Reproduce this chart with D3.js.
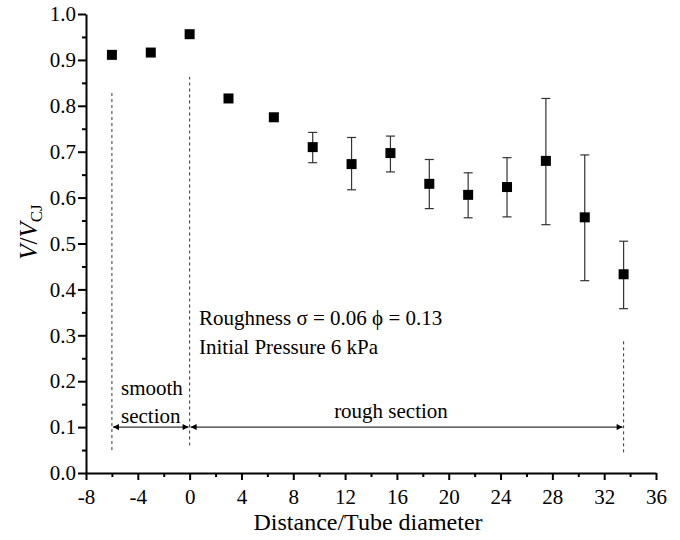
<!DOCTYPE html>
<html>
<head>
<meta charset="utf-8">
<script src="https://cdn.jsdelivr.net/npm/d3@7"></script>
<style>
  body { margin: 0; background: #fff; }
  svg text { font-family: "Liberation Serif", "Times New Roman", serif; fill: #000; }
</style>
</head>
<body>
<div class="chart"></div>
<script>
// data
const distance = [-6, -3, 0, 3, 6.5, 9.5, 12.5, 15.5, 18.5, 21.5, 24.5, 27.5, 30.5, 33.5];
const ratio    = [0.911, 0.916, 0.956, 0.816, 0.775, 0.710, 0.673, 0.697, 0.630, 0.606, 0.623, 0.680, 0.557, 0.433];
const errLow   = [null, null, null, null, null, 0.676, 0.617, 0.656, 0.576, 0.556, 0.558, 0.541, 0.419, 0.358];
const errHigh  = [null, null, null, null, null, 0.742, 0.731, 0.734, 0.683, 0.654, 0.687, 0.816, 0.693, 0.505];
const xTicks = [-8, -4, 0, 4, 8, 12, 16, 20, 24, 28, 32, 36];
const yTicks = [0, 0.1, 0.2, 0.3, 0.4, 0.5, 0.6, 0.7, 0.8, 0.9, 1.0];
const sectionMarks = [-6, 0, 33.5];

const W = 680, H = 540;
const svg = d3.select('.chart').append('svg')
  .attr('width', W)
  .attr('height', H);

const x = d3.scaleLinear().domain([-8, 36]).range([86, 656]);
const y = d3.scaleLinear().domain([0, 1]).range([473, 14]);

// X axis ----------------------------
const xAxis = svg.append('g')
  .attr('transform', `translate(0,${y(0)})`)
  .call(d3.axisBottom(x).tickValues(xTicks).tickFormat(d => d < 0 ? '-' + Math.abs(d) : d).tickSize(7).tickSizeOuter(0));
xAxis.selectAll('text').attr('font-size', 21).attr('dy', '1.0em');
// minor ticks
svg.append('g')
  .attr('transform', `translate(0,${y(0)})`)
  .call(d3.axisBottom(x).tickValues(d3.range(-6, 36, 4)).tickSize(4).tickFormat(''))
  .select('.domain').remove();

// Y axis ----------------------------
const yAxis = svg.append('g')
  .attr('transform', `translate(${x(-8)},0)`)
  .call(d3.axisLeft(y).tickValues(yTicks).tickFormat(d3.format('.1f')).tickSize(8).tickSizeOuter(0));
yAxis.selectAll('text').attr('font-size', 21).attr('x', -10);
svg.append('g')
  .attr('transform', `translate(${x(-8)},0)`)
  .call(d3.axisLeft(y).tickValues(d3.range(0.05, 1, 0.1)).tickSize(4).tickFormat(''))
  .select('.domain').remove();

svg.selectAll('.domain, .tick line').attr('stroke', '#000').attr('stroke-width', 2);

// axis titles
svg.append('text')
  .attr('x', 368)
  .attr('y', 530)
  .attr('text-anchor', 'middle')
  .attr('font-size', 24)
  .text('Distance/Tube diameter');

const yLab = svg.append('text')
  .attr('transform', `translate(37,${y(0.525)}) rotate(-90)`)
  .attr('text-anchor', 'middle')
  .attr('font-size', 25);
yLab.append('tspan').attr('font-style', 'italic').text('V');
yLab.append('tspan').text('/');
yLab.append('tspan').attr('font-style', 'italic').text('V');
yLab.append('tspan').attr('font-size', 17).attr('dy', 5).text('CJ');

// dashed section boundaries
const dashSpans = [[0.05, 0.834], [0.06, 0.863], [0.045, 0.288]];
svg.selectAll('.boundary')
  .data(sectionMarks)
  .enter()
  .append('line')
  .attr('class', 'boundary')
  .attr('x1', d => x(d))
  .attr('x2', d => x(d))
  .attr('y1', (d, i) => y(dashSpans[i][0]))
  .attr('y2', (d, i) => y(dashSpans[i][1]))
  .attr('stroke', '#333')
  .attr('stroke-width', 1)
  .attr('stroke-dasharray', '3,3');

// arrows
const defs = svg.append('defs');
defs.append('marker')
  .attr('id', 'arr')
  .attr('viewBox', '0 0 10 10')
  .attr('refX', 10).attr('refY', 5)
  .attr('markerWidth', 13).attr('markerHeight', 6)
  .attr('markerUnits', 'userSpaceOnUse')
  .attr('orient', 'auto-start-reverse')
  .append('path').attr('d', 'M0,0 L10,5 L0,10 Z').attr('fill', '#000');

const arrowSpans = [[-6, 0], [0, 33.5]];
svg.selectAll('.span-arrow')
  .data(arrowSpans)
  .enter()
  .append('line')
  .attr('class', 'span-arrow')
  .attr('x1', d => x(d[0]) + 1)
  .attr('x2', d => x(d[1]) - 1)
  .attr('y1', y(0.1))
  .attr('y2', y(0.1))
  .attr('stroke', '#000')
  .attr('stroke-width', 1)
  .attr('marker-start', 'url(#arr)')
  .attr('marker-end', 'url(#arr)');

// annotations
svg.append('text').attr('x', 121).attr('y', 395).attr('font-size', 21).text('smooth');
svg.append('text').attr('x', 121).attr('y', 423).attr('font-size', 21).text('section');
svg.append('text').attr('x', 391).attr('y', 418).attr('text-anchor', 'middle').attr('font-size', 21).text('rough section');
svg.append('text').attr('x', 199).attr('y', 325).attr('font-size', 21).text('Roughness σ = 0.06 ϕ = 0.13');
svg.append('text').attr('x', 199).attr('y', 354).attr('font-size', 21).text('Initial Pressure 6 kPa');

// error bars
const pts = distance.map((d, i) => ({ d, v: ratio[i], lo: errLow[i], hi: errHigh[i] }));
const eb = svg.selectAll('.err')
  .data(pts.filter(p => p.lo !== null))
  .enter()
  .append('g')
  .attr('class', 'err')
  .attr('stroke', '#333')
  .attr('stroke-width', 1.2);
eb.append('line').attr('x1', p => x(p.d)).attr('x2', p => x(p.d)).attr('y1', p => y(p.lo)).attr('y2', p => y(p.hi));
eb.append('line').attr('x1', p => x(p.d) - 4.5).attr('x2', p => x(p.d) + 4.5).attr('y1', p => y(p.lo)).attr('y2', p => y(p.lo));
eb.append('line').attr('x1', p => x(p.d) - 4.5).attr('x2', p => x(p.d) + 4.5).attr('y1', p => y(p.hi)).attr('y2', p => y(p.hi));

// square markers
const s = 10;
svg.selectAll('.pt')
  .data(pts)
  .enter()
  .append('rect')
  .attr('class', 'pt')
  .attr('x', p => x(p.d) - s / 2)
  .attr('y', p => y(p.v) - s / 2)
  .attr('width', s)
  .attr('height', s)
  .attr('fill', '#000');
</script>
</body>
</html>
